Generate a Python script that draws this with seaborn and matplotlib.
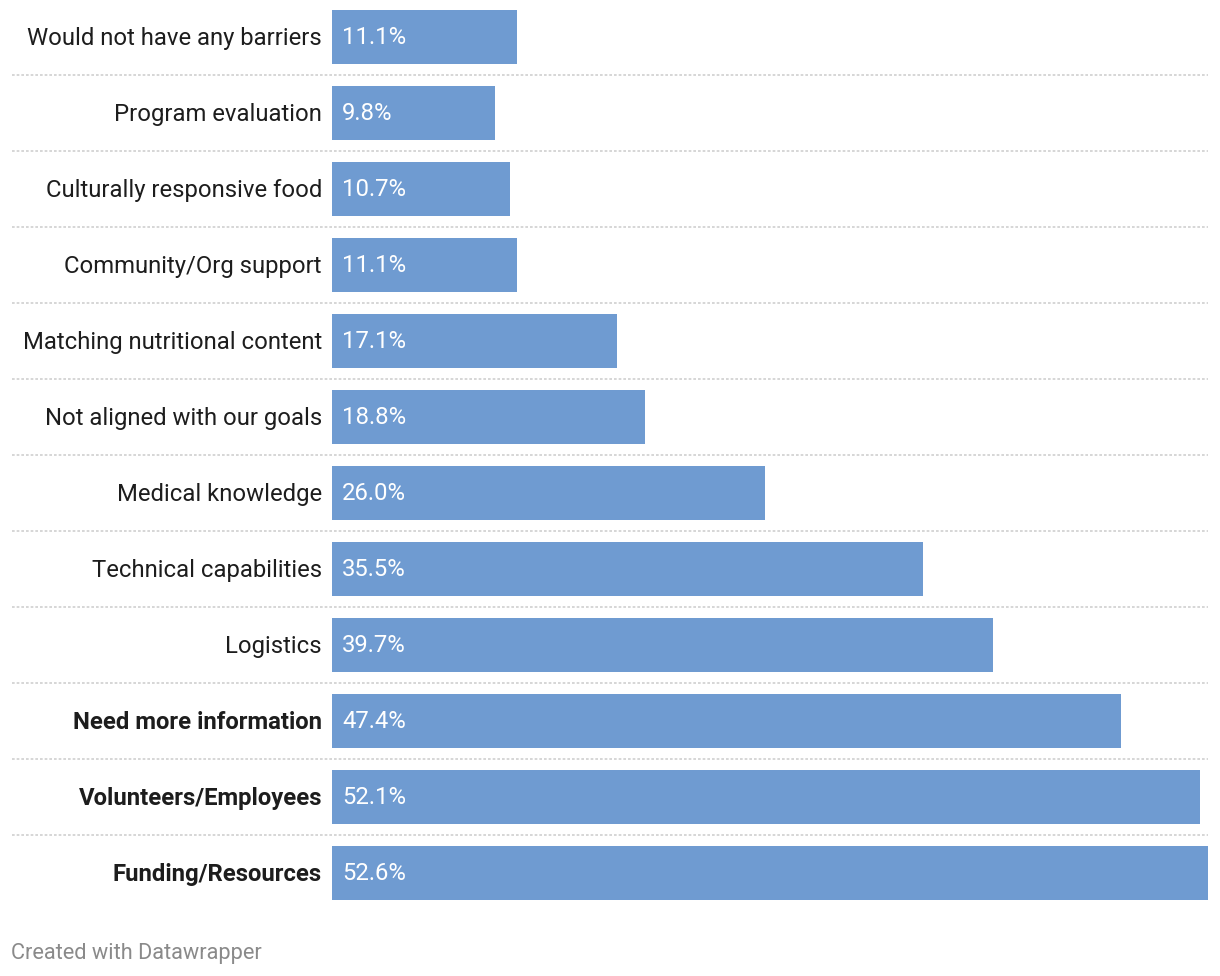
import matplotlib
matplotlib.use("Agg")
import matplotlib.pyplot as plt
import matplotlib.transforms as mtransforms
import seaborn as sns
import pandas as pd

categories = [
    "Would not have any barriers",
    "Program evaluation",
    "Culturally responsive food",
    "Community/Org support",
    "Matching nutritional content",
    "Not aligned with our goals",
    "Medical knowledge",
    "Technical capabilities",
    "Logistics",
    "Need more information",
    "Volunteers/Employees",
    "Funding/Resources",
]
values = [11.1, 9.8, 10.7, 11.1, 17.1, 18.8, 26.0, 35.5, 39.7, 47.4, 52.1, 52.6]
bold_labels = ["Need more information", "Volunteers/Employees", "Funding/Resources"]
footer = "Created with Datawrapper"

sns.set_theme(style="white")
plt.rcParams["font.family"] = ["Roboto", "DejaVu Sans"]

W, H = 1220, 976
fig = plt.figure(figsize=(W / 100, H / 100), dpi=100)
ax_left, ax_right = 332, 1208
ax_top, ax_bot = 0, 912
ax = fig.add_axes([ax_left / W, 1 - ax_bot / H, (ax_right - ax_left) / W, (ax_bot - ax_top) / H])

df = pd.DataFrame({"cat": categories, "val": values})
bar_color = "#6f9bd1"
sns.barplot(data=df, x="val", y="cat", orient="h", color=bar_color,
            width=54 / 76, saturation=1, ax=ax, order=categories, linewidth=0)

n = len(categories)
off = 1 / 76
ax.set_ylim(n - 0.5 + off, -0.5 + off)
ax.set_xlim(0, max(values))
ax.set_xlabel("")
ax.set_ylabel("")
ax.set_xticks([])
for s in ax.spines.values():
    s.set_visible(False)

fs = 17.2
ax.tick_params(axis="y", length=0, pad=10 * 0.72)
shift = mtransforms.ScaledTranslation(0, 1 / 100, fig.dpi_scale_trans)
for lbl in ax.get_yticklabels():
    lbl.set_fontsize(fs)
    lbl.set_color("#1d1d1d")
    lbl.set_transform(lbl.get_transform() + shift)
    if lbl.get_text() in bold_labels:
        lbl.set_fontweight("bold")

# value labels inside bars
for i, v in enumerate(values):
    ax.annotate(f"{v:.1f}%", xy=(0, i), xytext=(10 * 0.72, 0), textcoords="offset points",
                ha="left", va="center", color="white", fontsize=fs)

# dotted separators
trans = ax.get_yaxis_transform()
x0 = (12 - ax_left) / (ax_right - ax_left)
for i in range(n - 1):
    ax.plot([x0, 1.0], [i + 0.5, i + 0.5], transform=trans, clip_on=False,
            color="#d0d0d0", lw=1.2, linestyle=(0, (1.6, 1.2)), dash_capstyle="butt")

fig.text(11 / W, 1 - 953 / H, footer, ha="left", va="center", color="#8a8a8a", fontsize=15.7)

fig.savefig("out.png", dpi=100)
